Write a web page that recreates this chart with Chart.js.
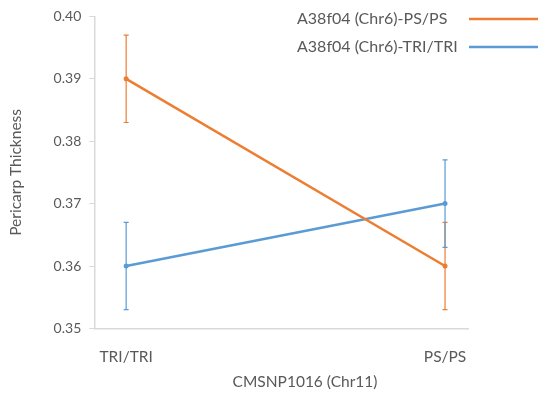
<!DOCTYPE html>
<html>
<head>
<meta charset="utf-8">
<script src="https://cdn.jsdelivr.net/npm/chart.js@4/dist/chart.umd.min.js"></script>
<style>
  html, body { margin: 0; padding: 0; background: #fff; }
  #wrap { width: 550px; height: 399px; }
</style>
</head>
<body>
<div id="wrap"><canvas id="pericarpChart"></canvas></div>
<script>
// data
let categories = ["TRI/TRI", "PS/PS"];
let seriesNames = ["A38f04 (Chr6)-PS/PS", "A38f04 (Chr6)-TRI/TRI"];
let psValues = [0.39, 0.36];
let psErrors = [0.007, 0.007];
let triValues = [0.36, 0.37];
let triErrors = [0.007, 0.007];
let yTicks = [0.35, 0.36, 0.37, 0.38, 0.39, 0.40];
let xTitle = "CMSNP1016 (Chr11)";

let orange = "#ED7D31";
let blue = "#5B9BD5";
let textGrey = "#595959";
let axisGrey = "#D9D9D9";
let fontName = "Lato, 'Open Sans', sans-serif";

function toPoints(values) {
    return values.map((v, i) => ({ x: i, y: v }));
}

// error bars drawn through the chart scales
const errorBars = {
    id: "errorBars",
    afterDatasetsDraw(chart) {
        let ctx = chart.ctx;
        let xs = chart.scales.x;
        let ys = chart.scales.y;
        chart.data.datasets.forEach(ds => {
            ctx.save();
            ctx.strokeStyle = ds.borderColor;
            ctx.lineWidth = 1.2;
            ds.data.forEach((p, i) => {
                let err = ds.errors[i];
                let px = xs.getPixelForValue(p.x);
                let top = ys.getPixelForValue(p.y + err);
                let bot = ys.getPixelForValue(p.y - err);
                ctx.beginPath();
                ctx.moveTo(px, top);
                ctx.lineTo(px, bot);
                ctx.moveTo(px - 2.5, top);
                ctx.lineTo(px + 2.5, top);
                ctx.moveTo(px - 2.5, bot);
                ctx.lineTo(px + 2.5, bot);
                ctx.stroke();
            });
            ctx.restore();
        });
    }
};

// legend in the top right: text first, then the line sample; plus the x title
const sideLegend = {
    id: "sideLegend",
    afterDraw(chart) {
        let ctx = chart.ctx;
        ctx.save();
        ctx.font = "16px " + fontName;
        ctx.fillStyle = textGrey;
        ctx.textAlign = "left";
        ctx.textBaseline = "middle";
        chart.data.datasets.forEach((ds, i) => {
            let y = 19 + i * 28;
            ctx.fillText(ds.label, 297, y);
            ctx.strokeStyle = ds.borderColor;
            ctx.lineWidth = 2.5;
            ctx.beginPath();
            ctx.moveTo(469, y);
            ctx.lineTo(538, y);
            ctx.stroke();
        });

        ctx.font = "15.5px " + fontName;
        ctx.textAlign = "center";
        ctx.fillText(xTitle, 305, 382);
        ctx.restore();
    }
};

let ctx = document.getElementById("pericarpChart").getContext("2d");

let pericarpChart = new Chart(ctx, {
    type: "line",
    data: {
        datasets: [
            {
                label: seriesNames[0],
                data: toPoints(psValues),
                errors: psErrors,
                borderColor: orange,
                backgroundColor: orange,
                borderWidth: 2.5,
                pointRadius: 2.5,
                pointBorderWidth: 0
            },
            {
                label: seriesNames[1],
                data: toPoints(triValues),
                errors: triErrors,
                borderColor: blue,
                backgroundColor: blue,
                borderWidth: 2.5,
                pointRadius: 2.5,
                pointBorderWidth: 0
            }
        ]
    },
    options: {
        responsive: true,
        maintainAspectRatio: false,
        animation: false,
        layout: {
            padding: { top: 0, right: 82, bottom: 22, left: 7 }
        },
        plugins: {
            legend: { display: false },
            tooltip: { enabled: false }
        },
        scales: {
            x: {
                type: "linear",
                min: -0.1,
                max: 1.072,
                afterBuildTicks(scale) {
                    scale.ticks = categories.map((c, i) => ({ value: i }));
                },
                ticks: {
                    callback: (value) => categories[value],
                    color: textGrey,
                    font: { family: fontName, size: 15.5 },
                    padding: 11
                },
                grid: { display: false },
                border: { display: true, color: axisGrey, width: 1.5 }
            },
            y: {
                min: 0.35,
                max: 0.40,
                afterBuildTicks(scale) {
                    scale.ticks = yTicks.map(v => ({ value: v }));
                },
                ticks: {
                    callback: (value) => value.toFixed(2),
                    color: textGrey,
                    font: { family: fontName, size: 14 },
                    padding: 8
                },
                grid: {
                    drawOnChartArea: false,
                    drawTicks: true,
                    tickLength: 5,
                    color: axisGrey
                },
                border: { display: true, color: axisGrey, width: 1.5 },
                title: {
                    display: true,
                    text: "Pericarp Thickness",
                    color: textGrey,
                    font: { family: fontName, size: 15.5 },
                    padding: { top: 0, bottom: 20 }
                }
            }
        }
    },
    plugins: [errorBars, sideLegend]
});
</script>
</body>
</html>
